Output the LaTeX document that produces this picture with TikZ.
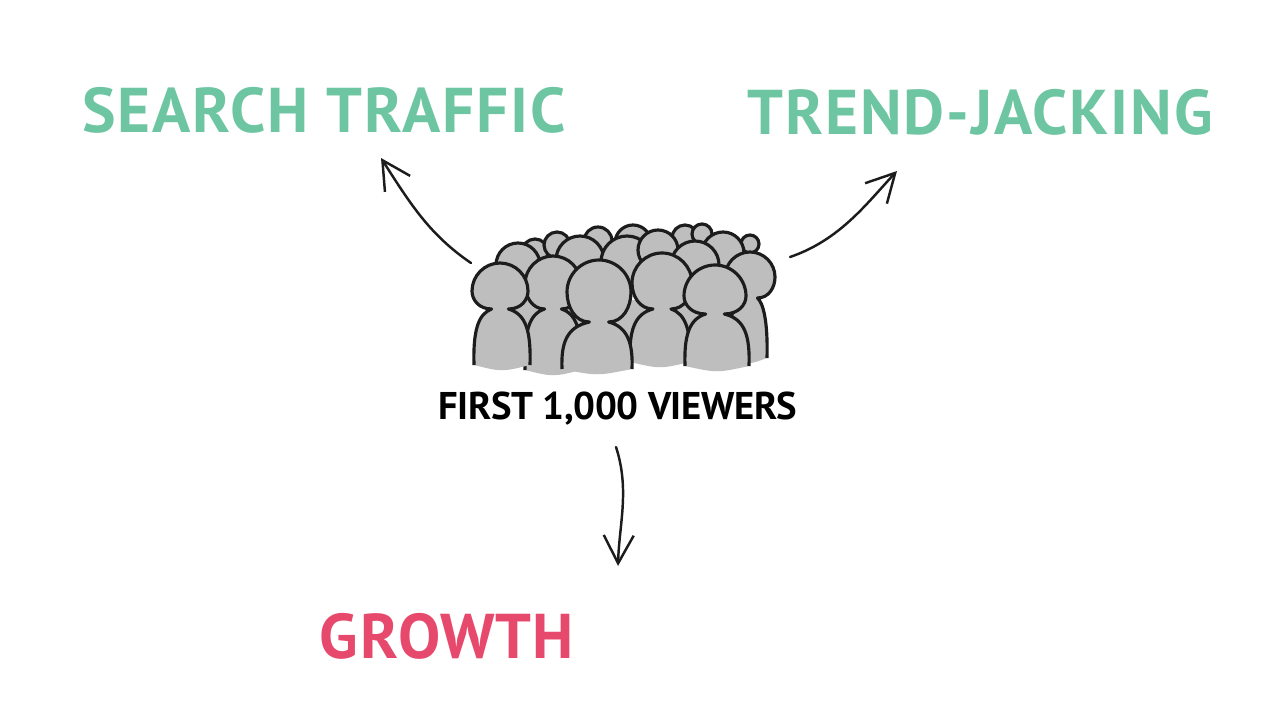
\documentclass[tikz,border=0pt]{standalone}
\usepackage{fontspec}
\setmainfont{PT Sans}
\usetikzlibrary{arrows.meta,positioning}
\definecolor{mint}{HTML}{6DC5A2}
\definecolor{rose}{HTML}{E6496C}
\definecolor{crowdgray}{HTML}{BEBEBE}
\definecolor{inkline}{HTML}{1C1C1C}
\tikzset{
    raw title/.style={inner sep=0pt, align=center, font=\bfseries\fontsize{36}{40}\selectfont\addfontfeature{LetterSpace=3}},
    title green/.style={raw title, text=mint},
    title red/.style={raw title, text=rose},
    caption/.style={inner sep=0pt, align=center, text=black, font=\bfseries\fontsize{22}{26}\selectfont\addfontfeature{LetterSpace=-1}},
    viewer/.style={draw=inkline, fill=crowdgray, line width=1.8pt, line join=round},
    flow/.style={draw=inkline, line width=1.4pt, line cap=round, -{Straight Barb[length=16pt,width=17pt,line width=1.4pt]}}
}
\begin{document}
\begin{tikzpicture}[x=0.02cm,y=-0.02cm]
	\useasboundingbox (0,0) rectangle (1280,720);
	\node[title green] (search) at (324,110) {SEARCH TRAFFIC};
	\node[title green] (trend) at (980,112) {TREND-JACKING};
	\node[title red] (growth) at (447,636) {GROWTH};
	\node[caption] (viewers) at (618,409) {FIRST 1,000 VIEWERS};
	% back of the crowd
	\foreach \x/\y/\r in {535/252/13, 557/245/13, 598/241/14, 633/243/18, 685/238/13, 702/234/10, 750/244/9,
			518/265/22, 580/260/24, 627/262/26, 658/250/20, 723/253/21, 695/265/24}
		\path[viewer] (\x,\y) circle (\r);
	\fill[crowdgray] (510,300) rectangle (745,363);
	% x/y/r/neck/c/w/bottom
	\foreach \x/\y/\r/\n/\c/\w/\b in {750/277/25/298/748/19/358, 553/284/28/309/553/28/370, 662/283/30/309/660/30/362,
			715/296/31/314/717/32/366, 599/292/32/322/597/35/369, 500/291/28/309/502/28/365} {
		\fill[crowdgray] (\c-\w,\b) .. controls (\c,\b+7) .. (\c+\w,\b);
		\path[viewer] (\c-\w,\b) .. controls (\c-\w-1,\n+22) and (\c-\w+4,\n+5) .. (\x-.3*\r,\n)
			.. controls (\x-.75*\r,\n) and (\x-\r,.5*\y+.5*\n) .. (\x-\r,\y)
			.. controls (\x-\r,\y-.55*\r) and (\x-.55*\r,\y-\r) .. (\x,\y-\r)
			.. controls (\x+.55*\r,\y-\r) and (\x+\r,\y-.55*\r) .. (\x+\r,\y)
			.. controls (\x+\r,.5*\y+.5*\n) and (\x+.75*\r,\n) .. (\x+.3*\r,\n)
			.. controls (\c+\w-4,\n+5) and (\c+\w+1,\n+22) .. (\c+\w,\b);
	}
	\coordinate (crowd left) at (471,263);
	\coordinate (crowd right) at (790,257);
	\coordinate (viewers out) at (616,447);
	\coordinate (search in) at (381,158);
	\coordinate (trend in) at (897,171);
	\coordinate (growth in) at (618,566);
	\draw[flow] (crowd left) .. controls (430,235) and (411,205) .. (search in);
	\draw[flow] (crowd right) .. controls (840,240) and (867,203) .. (trend in);
	\draw[flow] (viewers out) .. controls (630,490) and (619,525) .. (growth in);
\end{tikzpicture}
\end{document}
